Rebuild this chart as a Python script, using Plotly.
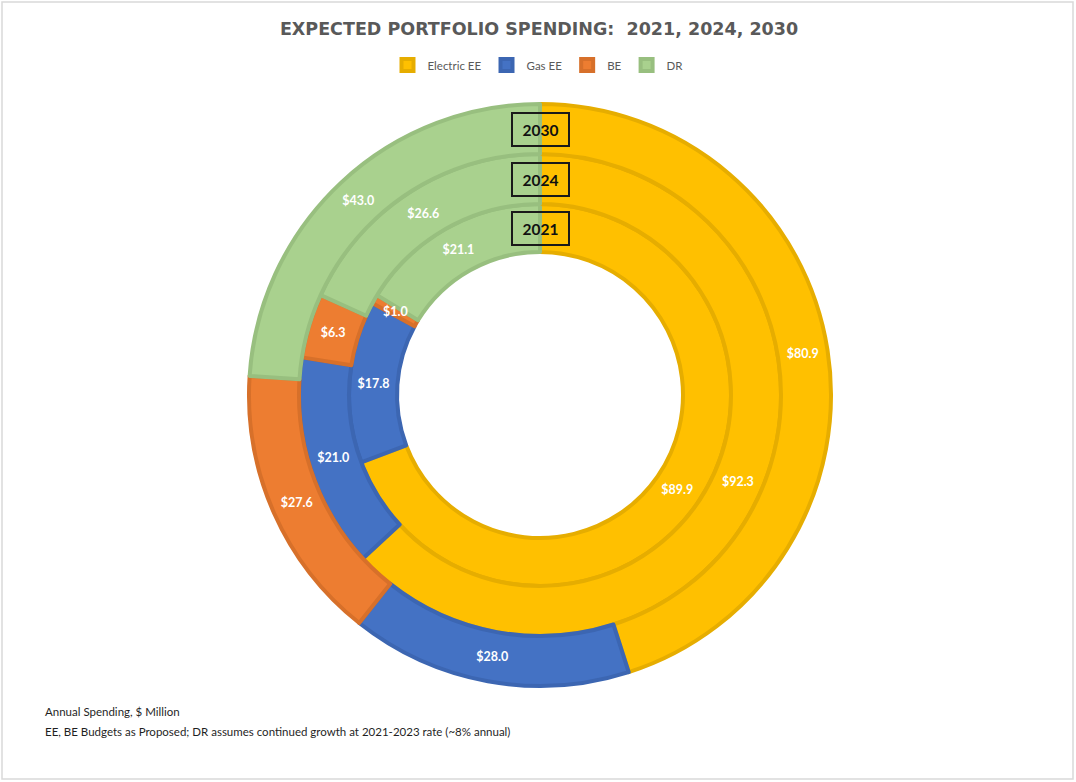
import math
import plotly.graph_objects as go

W, H = 1076, 782

# Spending categories and annual spending ($ million) by year
categories = ["Electric EE", "Gas EE", "BE", "DR"]
years = ["2021", "2024", "2030"]
spend_2021 = [89.9, 17.8, 1.0, 21.1]
spend_2024 = [92.3, 21.0, 6.3, 26.6]
spend_2030 = [80.9, 28.0, 27.6, 43.0]

fill_colors = ["#FFC000", "#4472C4", "#ED7D31", "#A9D18E"]
edge_colors = ["#E6AD00", "#3C66B2", "#D7702A", "#98BF7F"]

# ring geometry in pixels: centre and radii (inner ring -> outer ring)
cx, cy = 540, 395
radii = [143, 191, 241, 291]

label_font = dict(family="Lato, Open Sans, sans-serif", size=12.5, color="white", weight="bold")
SMALL_SHARE = 0.03  # slices narrower than this get a free-floating label

fig = go.Figure()
annotations = []

series = [spend_2021, spend_2024, spend_2030]
for i, (yr, vals) in enumerate(zip(years, series)):
    r_in, r_out = radii[i], radii[i + 1]
    total = sum(vals)
    templates = []
    cum = 0.0
    for v in vals:
        share = v / total
        if share < SMALL_SHARE:
            # too thin for an inside label: centre it on the slice instead
            templates.append("")
            theta = math.radians((cum + v / 2) / total * 360)
            r_mid = (r_in + r_out) / 2
            px = cx + r_mid * math.sin(theta)
            py = cy - r_mid * math.cos(theta)
            annotations.append(dict(
                x=px / W, y=(H - py) / H, xref="paper", yref="paper",
                text=f"${v:.1f}", showarrow=False,
                xanchor="center", yanchor="middle", font=label_font,
            ))
        else:
            templates.append("$%{value:.1f}")
        cum += v

    fig.add_trace(go.Pie(
        labels=categories,
        values=vals,
        name=yr,
        sort=False,
        direction="clockwise",
        rotation=0,
        hole=r_in / r_out,
        domain=dict(
            x=[(cx - r_out) / W, (cx + r_out) / W],
            y=[(H - cy - r_out) / H, (H - cy + r_out) / H],
        ),
        marker=dict(colors=fill_colors, line=dict(color=edge_colors, width=4)),
        texttemplate=templates,
        textposition="inside",
        insidetextorientation="horizontal",
        textfont=label_font,
        hoverinfo="label+value+name",
        showlegend=(i == 0),
    ))

# year tags at the top of each ring
for i, yr in enumerate(years):
    r_mid = (radii[i] + radii[i + 1]) / 2
    annotations.append(dict(
        x=cx / W, y=(H - (cy - r_mid)) / H, xref="paper", yref="paper",
        text="<b>" + yr + "</b>", showarrow=False,
        font=dict(family="Lato, Open Sans, sans-serif", size=15.5, color="#111111"),
        bordercolor="#1A1A1A", borderwidth=2, borderpad=3,
        bgcolor="rgba(0,0,0,0)", width=49, height=25,
        xanchor="center", yanchor="middle",
    ))

notes = ["Annual Spending, $ Million",
         "EE, BE Budgets as Proposed; DR assumes continued growth at 2021-2023 rate (~8% annual)"]
for j, line in enumerate(notes):
    annotations.append(dict(
        x=43 / W, y=(H - (711 + 20 * j)) / H, xref="paper", yref="paper",
        text=line, showarrow=False, xanchor="left", yanchor="middle",
        font=dict(family="Lato, sans-serif", size=11.5, color="#1F1F1F"),
    ))

fig.update_layout(
    width=W, height=H,
    margin=dict(l=0, r=0, t=0, b=0),
    paper_bgcolor="white",
    plot_bgcolor="white",
    title=dict(
        text="<b>EXPECTED PORTFOLIO SPENDING:\u00a0 2021, 2024, 2030</b>",
        x=539 / W, xanchor="center", y=1 - 29 / H, yanchor="middle",
        font=dict(family="DejaVu Sans, sans-serif", size=17.5, color="#595959"),
    ),
    legend=dict(
        orientation="h", x=0.5, xanchor="center", y=1 - 65 / H, yanchor="middle",
        font=dict(family="Lato, Open Sans, sans-serif", size=11.5, color="#595959"),
        itemwidth=30, traceorder="normal",
    ),
    annotations=annotations,
    shapes=[dict(type="rect", xref="paper", yref="paper",
                 x0=2 / W, x1=1073 / W, y0=1 - 779 / H, y1=1 - 2 / H,
                 line=dict(color="#D9D9D9", width=1.5))],
    uniformtext=dict(minsize=12.5, mode="show"),
)

fig.write_html("out.html")
